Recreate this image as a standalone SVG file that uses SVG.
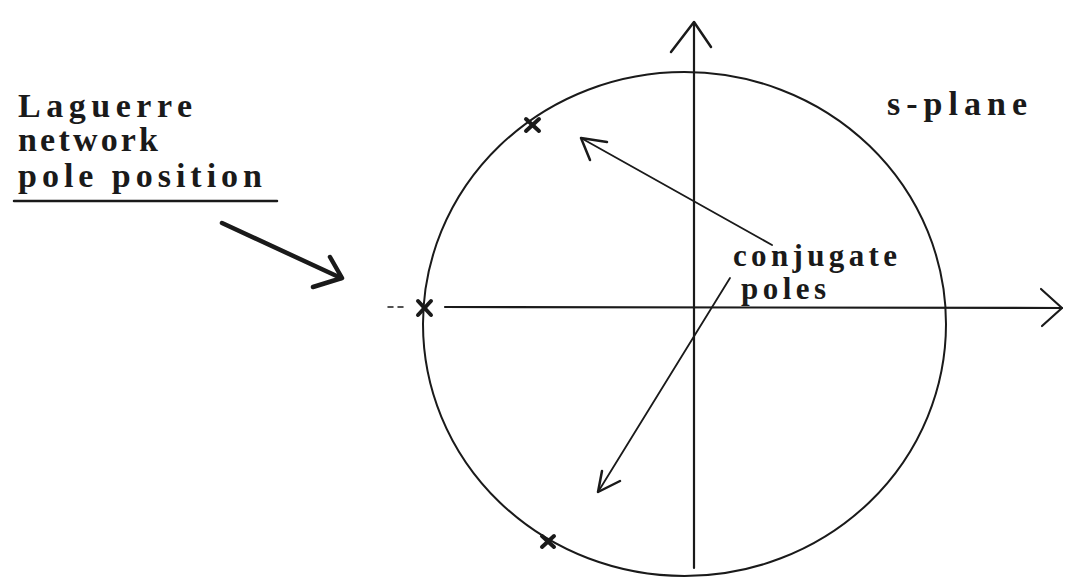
<svg xmlns="http://www.w3.org/2000/svg" width="1065" height="577" viewBox="0 0 1065 577">
<style>
.t{font-family:"Liberation Serif","DejaVu Serif",serif;font-weight:bold;font-size:34px;fill:#1a1a1a}
.s{font-size:31px}
.ln{fill:none;stroke:#1a1a1a;stroke-linecap:round;stroke-linejoin:round}
.pole{fill:none;stroke:#1a1a1a;stroke-width:4;stroke-linecap:round}
</style>
<rect width="1065" height="577" fill="#ffffff"/>
<g id="axes">
<line class="ln" x1="694" y1="22" x2="694" y2="568" stroke-width="2.2"/>
<polyline class="ln" points="671,52 694,22 711,47" stroke-width="2.5"/>
<line class="ln" x1="445" y1="307" x2="1062" y2="308" stroke-width="2.2"/>
<polyline class="ln" points="1041,289 1062,308 1042,326" stroke-width="2.2"/>
<line class="ln" x1="388" y1="307" x2="393" y2="307" stroke-width="1.5"/>
<line class="ln" x1="398" y1="307" x2="403" y2="307" stroke-width="1.5"/>
</g>
<g id="circle">
<ellipse class="ln" cx="684.5" cy="324" rx="261.5" ry="252" stroke-width="2"/>
</g>
<g id="poles">
<g id="pole-top"><line class="pole" x1="526" y1="119" x2="539" y2="131"/><line class="pole" x1="539" y1="119" x2="526" y2="131"/></g>
<g id="pole-left"><line class="pole" x1="418" y1="301" x2="431" y2="315"/><line class="pole" x1="431" y1="301" x2="418" y2="315"/></g>
<g id="pole-bottom"><line class="pole" x1="542" y1="536" x2="554" y2="547" stroke-width="3.2"/><line class="pole" x1="554" y1="536" x2="542" y2="547" stroke-width="3.2"/></g>
</g>
<g id="labels">
<g id="laguerre-label">
<text class="t" x="18" y="117" textLength="174" lengthAdjust="spacing">Laguerre</text>
<text class="t" x="18" y="151" textLength="140" lengthAdjust="spacing">network</text>
<text class="t" x="18" y="187" textLength="244" lengthAdjust="spacing">pole position</text>
<line class="ln" x1="14" y1="201" x2="277" y2="201" stroke-width="2.5"/>
</g>
<g id="splane-label"><text class="t" x="887" y="115" textLength="140" lengthAdjust="spacing">s-plane</text></g>
<g id="conjugate-label">
<text class="t s" x="733" y="266" textLength="164" lengthAdjust="spacing">conjugate</text>
<text class="t s" x="741" y="299" textLength="85" lengthAdjust="spacing">poles</text>
</g>
</g>
<g id="connectors">
<line class="ln" x1="222" y1="223" x2="341" y2="278" stroke-width="4.5"/>
<polyline class="ln" points="330,257 342,278 313,287" stroke-width="4.5"/>
<line class="ln" x1="772" y1="245" x2="581" y2="138" stroke-width="1.8"/>
<polyline class="ln" points="607,142 581,138 590,160" stroke-width="2.5"/>
<line class="ln" x1="730" y1="278" x2="598" y2="492" stroke-width="1.8"/>
<polyline class="ln" points="620,481 598,492 602,471" stroke-width="2.5"/>
</g>
</svg>
